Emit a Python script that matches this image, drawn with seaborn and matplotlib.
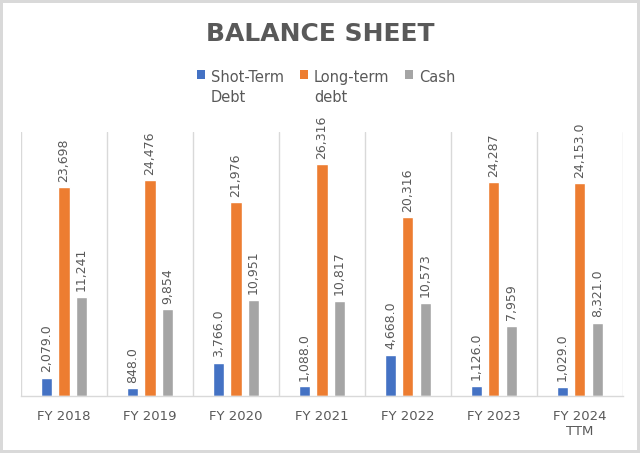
import matplotlib
matplotlib.use("Agg")
import matplotlib.pyplot as plt
import seaborn as sns
import pandas as pd
from matplotlib.patches import Patch
from matplotlib.ticker import FixedLocator

years = ["FY 2018", "FY 2019", "FY 2020", "FY 2021", "FY 2022", "FY 2023", "FY 2024\nTTM"]
series_names = ["Shot-Term\nDebt", "Long-term\ndebt", "Cash"]
short_term = [2079.0, 848.0, 3766.0, 1088.0, 4668.0, 1126.0, 1029.0]
long_term = [23698, 24476, 21976, 26316, 20316, 24287, 24153.0]
cash = [11241, 9854, 10951, 10817, 10573, 7959, 8321.0]
short_labels = ["2,079.0", "848.0", "3,766.0", "1,088.0", "4,668.0", "1,126.0", "1,029.0"]
long_labels = ["23,698", "24,476", "21,976", "26,316", "20,316", "24,287", "24,153.0"]
cash_labels = ["11,241", "9,854", "10,951", "10,817", "10,573", "7,959", "8,321.0"]
colors = ["#4472C4", "#ED7D31", "#A5A5A5"]

rows = []
for name, vals in zip(series_names, [short_term, long_term, cash]):
    for y, v in zip(years, vals):
        rows.append({"year": y, "series": name, "value": v})
df = pd.DataFrame(rows)

sns.set_theme(style="white")
plt.rcParams["font.family"] = ["DejaVu Sans"]

fig = plt.figure(figsize=(6.4, 4.53), dpi=100)
fig.patch.set_facecolor("white")
fig.patch.set_edgecolor("#D9D9D9")
fig.patch.set_linewidth(3)
ax = fig.add_axes([0.033, 0.126, 0.940, 0.583])

sns.barplot(data=df, x="year", y="value", hue="series", order=years,
            hue_order=series_names, palette=colors, width=0.61, gap=0.36,
            saturation=1, ax=ax, legend=False, errorbar=None)

for cont, labs in zip(ax.containers, [short_labels, long_labels, cash_labels]):
    ax.bar_label(cont, labels=labs, rotation=90, padding=4, fontsize=9, color="#595959")

ax.set_ylim(0, 30000)
ax.set_xlim(-0.5, len(years) - 0.5)
ax.set_xlabel("")
ax.set_ylabel("")
ax.set_yticks([])
ax.xaxis.set_minor_locator(FixedLocator([i - 0.5 for i in range(len(years) + 1)]))
ax.grid(True, which="minor", axis="x", color="#D9D9D9", linewidth=1)
ax.tick_params(axis="x", which="both", length=0, pad=10, labelsize=9.5, labelcolor="#595959")
for s in ["top", "left", "right"]:
    ax.spines[s].set_visible(False)
ax.spines["bottom"].set_color("#D9D9D9")
ax.spines["bottom"].set_linewidth(1)

fig.text(0.5, 0.925, "BALANCE SHEET", ha="center", va="center", fontsize=18,
         fontweight="bold", color="#595959")

handles = [Patch(facecolor=c, edgecolor="none") for c in colors]
leg = fig.legend(handles, series_names, loc="upper center", bbox_to_anchor=(0.51, 0.875),
                 ncol=3, frameon=False, handlelength=0.55, handleheight=0.55,
                 handletextpad=0.4, columnspacing=1.1, fontsize=10.5)
for t in leg.get_texts():
    t.set_color("#595959")
    t.set_linespacing(1.45)
leg._legend_handle_box.align = "top"
for col in leg._legend_handle_box.get_children():
    col.align = "left"
    for item in col.get_children():
        item.align = "top"

fig.savefig("out.png", dpi=100)
